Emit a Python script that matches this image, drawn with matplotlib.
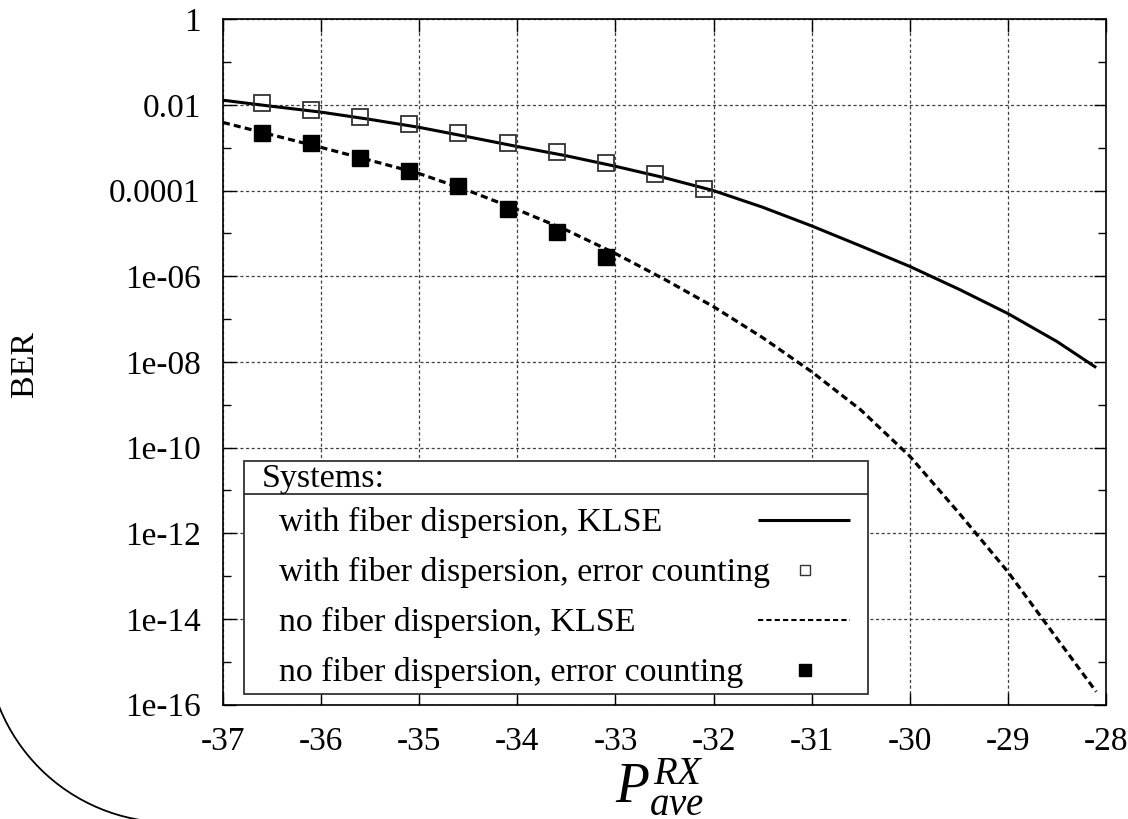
import numpy as np
import matplotlib
matplotlib.use('Agg')
import matplotlib.pyplot as plt
from matplotlib.patches import Arc, Rectangle
from matplotlib.lines import Line2D

plt.rcParams['font.family'] = ['Liberation Serif', 'DejaVu Serif']
plt.rcParams['mathtext.fontset'] = 'custom'
plt.rcParams['mathtext.rm'] = 'Liberation Serif'
plt.rcParams['mathtext.it'] = 'Liberation Serif:italic'
plt.rcParams['axes.unicode_minus'] = False

# KLSE curves (received power vs BER)
p_curve = [-37, -36.5, -36, -35.5, -35, -34.5, -34, -33.5, -33, -32.5, -32,
           -31.5, -31, -30.5, -30, -29.5, -29, -28.5, -28.1]
ber_disp_klse = [1.29e-2, 9.3e-3, 6.8e-3, 4.6e-3, 3.0e-3, 1.8e-3, 1.07e-3, 6.5e-4,
                 3.7e-4, 2.0e-4, 1.0e-4, 4.1e-5, 1.5e-5, 5.1e-6, 1.7e-6, 5.0e-7,
                 1.35e-7, 3.0e-8, 7.4e-9]
ber_nodisp_klse = [3.9e-3, 2.0e-3, 1.02e-3, 5.1e-4, 2.5e-4, 1.0e-4, 3.6e-5, 1.2e-5,
                   3.4e-6, 8.5e-7, 1.95e-7, 3.7e-8, 5.9e-9, 7.6e-10, 6.3e-11,
                   3.0e-12, 1.26e-13, 3.5e-15, 2.0e-16]

# error counting points
p_disp_ec = [-36.6, -36.1, -35.6, -35.1, -34.6, -34.1, -33.6, -33.1, -32.6, -32.1]
ber_disp_ec = [1.1e-2, 7.8e-3, 5.2e-3, 3.5e-3, 2.2e-3, 1.3e-3, 7.8e-4, 4.5e-4, 2.4e-4, 1.1e-4]
p_nodisp_ec = [-36.6, -36.1, -35.6, -35.1, -34.6, -34.1, -33.6, -33.1]
ber_nodisp_ec = [2.2e-3, 1.26e-3, 5.9e-4, 2.8e-4, 1.3e-4, 3.8e-5, 1.1e-5, 2.8e-6]

x_ticks = [-37, -36, -35, -34, -33, -32, -31, -30, -29, -28]
y_ticks = [1, 1e-2, 1e-4, 1e-6, 1e-8, 1e-10, 1e-12, 1e-14, 1e-16]
y_tick_labels = ['1', '0.01', '0.0001', '1e-06', '1e-08', '1e-10', '1e-12', '1e-14', '1e-16']
y_minor = [1e-1, 1e-3, 1e-5, 1e-7, 1e-9, 1e-11, 1e-13, 1e-15]

legend_title = 'Systems:'
legend_labels = ['with fiber dispersion, KLSE',
                 'with fiber dispersion, error counting',
                 'no fiber dispersion, KLSE',
                 'no fiber dispersion, error counting']

W, H = 1128, 819
fig = plt.figure(figsize=(W / 100, H / 100), dpi=100)
ax_l, ax_r, ax_t, ax_b = 223, 1106, 19.3, 704.6
ax = fig.add_axes([ax_l / W, 1 - ax_b / H, (ax_r - ax_l) / W, (ax_b - ax_t) / H])

solid_kw = dict(color='black', lw=2.2, solid_capstyle='butt')
dash_kw = dict(color='black', lw=2.3, ls=(0, (2.2, 1.3)))
open_kw = dict(ls='none', marker='s', ms=11, mfc='none', mec='0.2', mew=1.3)
fill_kw = dict(ls='none', marker='s', ms=11, mfc='black', mec='black', mew=1)

ax.plot(p_curve, ber_disp_klse, **solid_kw)
ax.plot(p_curve, ber_nodisp_klse, **dash_kw)
ax.plot(p_disp_ec, ber_disp_ec, **open_kw)
ax.plot(p_nodisp_ec, ber_nodisp_ec, **fill_kw)

ax.set_yscale('log')
ax.set_xlim(-37, -28)
ax.set_ylim(1e-16, 1)
ax.set_xticks(x_ticks)
ax.set_yticks(y_ticks)
ax.set_yticklabels(y_tick_labels)
ax.set_yticks(y_minor, minor=True)
ax.yaxis.set_minor_formatter(matplotlib.ticker.NullFormatter())
ax.tick_params(which='both', direction='in', top=True, right=True, labelsize=24, width=1)
ax.tick_params(which='major', length=9)
ax.tick_params(which='minor', length=6)
ax.tick_params(axis='x', pad=16)
ax.tick_params(axis='y', pad=16)
ax.grid(True, which='major', ls=(0, (2.5, 2)), lw=0.9, color='0.25')
ax.set_axisbelow(True)
for s in ax.spines.values():
    s.set_linewidth(1.2)

# legend box, gnuplot style (text left, sample right)
def px_x(v):
    return (v - ax_l) / (ax_r - ax_l)

def px_y(v):
    return (ax_b - v) / (ax_b - ax_t)

box = Rectangle((px_x(244), px_y(694)), px_x(868) - px_x(244), px_y(461) - px_y(694),
                transform=ax.transAxes, facecolor='white', edgecolor='0.2', lw=1.3, zorder=5)
ax.add_patch(box)
ax.add_line(Line2D([px_x(244), px_x(868)], [px_y(494), px_y(494)], transform=ax.transAxes,
                   color='0.2', lw=1.3, zorder=6))
ax.text(px_x(262), px_y(479), legend_title, transform=ax.transAxes, fontsize=24.5,
        ha='left', va='center', zorder=7)
rows = [520, 570, 620, 670]
for yrow, lab in zip(rows, legend_labels):
    ax.text(px_x(279), px_y(yrow) - 0.003, lab, transform=ax.transAxes, fontsize=24.5,
            ha='left', va='center', zorder=7)
ax.add_line(Line2D([px_x(758), px_x(850)], [px_y(rows[0])] * 2, transform=ax.transAxes,
                   zorder=7, **solid_kw))
ax.add_line(Line2D([px_x(805)], [px_y(rows[1])], transform=ax.transAxes, zorder=7,
                   **dict(open_kw, ms=7.5, mew=1.0)))
ax.add_line(Line2D([px_x(758), px_x(850)], [px_y(rows[2])] * 2, transform=ax.transAxes,
                   zorder=7, color='black', lw=1.5, ls=(0, (2.5, 1.5))))
ax.add_line(Line2D([px_x(805)], [px_y(rows[3])], transform=ax.transAxes, zorder=7,
                   **dict(fill_kw, ms=8)))

fig.text(25 / W, 1 - 364 / H, 'BER', rotation=90, ha='center', va='center', fontsize=24.5)
fig.text(660 / W, 1 - 803 / H, r'$P^{RX}_{ave}$', ha='center', va='baseline', fontsize=40)

# stray arc in the lower left corner
fig.patches.append(Arc((170 / W, 180.6 / H), 368 / W, 368 / H, theta1=180, theta2=270,
                       transform=fig.transFigure, color='black', lw=1.3))

fig.savefig('out.png', dpi=100)
